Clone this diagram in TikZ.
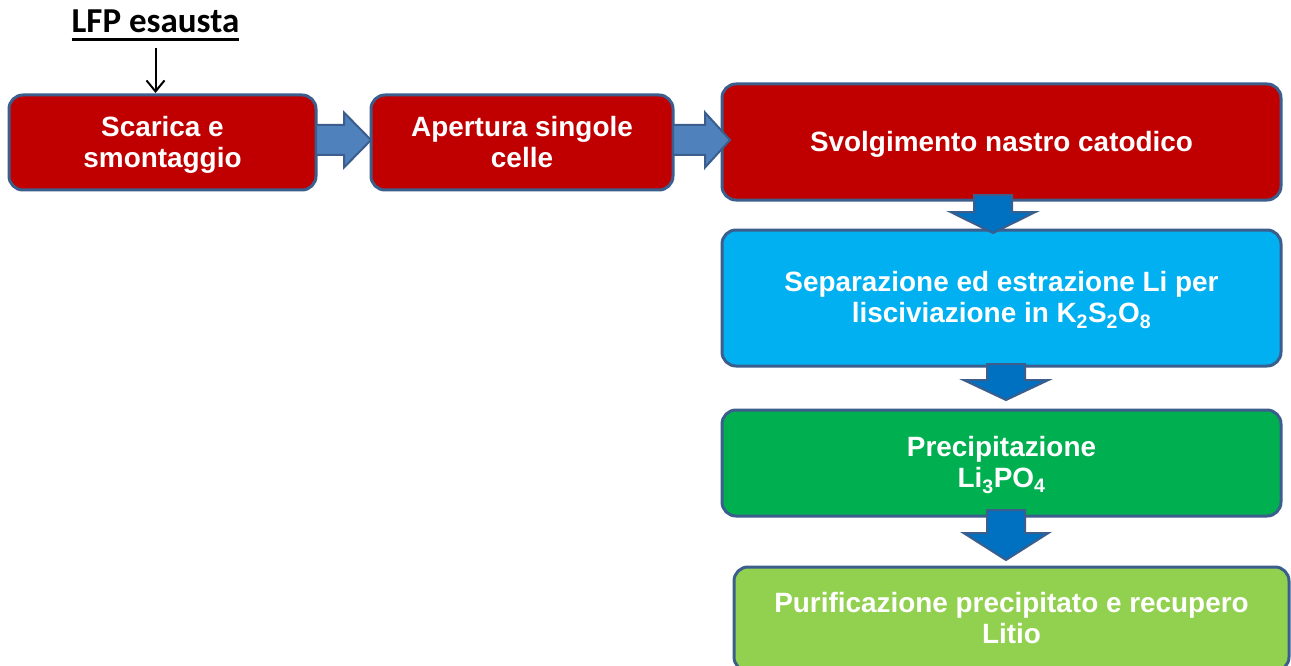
\documentclass[tikz,border=0pt]{standalone}
\usepackage{fontspec}
\setmainfont{Liberation Sans}
\newfontfamily\calfont{Carlito}
\usetikzlibrary{arrows.meta,calc}
\definecolor{cRed}{HTML}{C00000}
\definecolor{cCyan}{HTML}{00B0F0}
\definecolor{cGreen}{HTML}{00B050}
\definecolor{cLime}{HTML}{92D050}
\definecolor{cEdge}{HTML}{3B5E8C}
\definecolor{cBlkH}{HTML}{4F81BD}
\definecolor{cBlkV}{HTML}{0070C0}
\newcommand{\boxfont}{\fontsize{27.9}{31}\selectfont\bfseries}
% underlined title text
\newcommand{\ulbartxt}[1]{\setbox0\hbox{#1}\rlap{\copy0}\rule[-7.6pt]{\wd0}{2.6pt}}
\tikzset{
  stepbox/.style={draw=cEdge, line width=3pt, rounded corners=14pt, align=center,
                  text=white, font=\boxfont, inner sep=0pt, outer sep=0pt, text depth=1.3pt},
  blkh/.style={fill=cBlkH, draw=cEdge, line width=2pt},
  blkv/.style={fill=cBlkV, draw=cEdge, line width=2pt},
  tarr/.style={-{Straight Barb[length=11pt,width=18pt]}, line width=2pt, black},
}
% horizontal block arrow: start, tip, head length
\newcommand{\hblk}[3]{%
  \draw[blkh] let \p1=#1, \p2=#2 in
    (\x1,\y1+15) -- (\x2-#3,\y1+15) -- (\x2-#3,\y1+27.5) -- (\x2,\y1)
    -- (\x2-#3,\y1-27.5) -- (\x2-#3,\y1-15) -- (\x1,\y1-15) -- cycle;}
% vertical block arrow: start, tip, head length
\newcommand{\vblk}[3]{%
  \draw[blkv] let \p1=#1, \p2=#2 in
    (\x1-19,\y1) -- (\x1-19,\y2+#3) -- (\x1-42.5,\y2+#3) -- (\x1,\y2)
    -- (\x1+42.5,\y2+#3) -- (\x1+19,\y2+#3) -- (\x1+19,\y1) -- cycle;}

\begin{document}
\begin{tikzpicture}[x=1pt, y=-1pt]
    \fill[white] (0,0) rectangle (1291,666);
    \useasboundingbox (0,0) rectangle (1291,666);
    % title
    \node[anchor=base, inner sep=0pt, font=\calfont\bfseries\fontsize{35}{40}\selectfont] (ttl)
        at (155.5,33) {\ulbartxt{LFP esausta}};
    % process steps
    \node[stepbox, fill=cRed, minimum width=307pt, minimum height=95pt] (s1)
        at (162.5,142.5) {Scarica e\\smontaggio};
    \node[stepbox, fill=cRed, minimum width=302pt, minimum height=95pt] (s2)
        at (522,142.5) {Apertura singole\\celle};
    \node[stepbox, fill=cRed, minimum width=559pt, minimum height=116pt] (s3)
        at (1001.5,142) {Svolgimento nastro catodico};
    \node[stepbox, fill=cCyan, minimum width=559pt, minimum height=136pt] (s4)
        at (1001.5,298) {Separazione ed estrazione Li per\\lisciviazione in K\textsubscript{2}S\textsubscript{2}O\textsubscript{8}};
    \node[stepbox, fill=cGreen, minimum width=559pt, minimum height=106pt] (s5)
        at (1001.5,463) {Precipitazione\\Li\textsubscript{3}PO\textsubscript{4}};
    \node[stepbox, fill=cLime, minimum width=555pt, minimum height=104pt] (s6)
        at (1011.5,619) {Purificazione precipitato e recupero\\Litio};
    % input arrow
    \draw[tarr, shorten >=2pt] (ttl.base) ++(0,15) -- (ttl.base |- s1.north);
    % block arrows
    \hblk{([yshift=2.5pt]s1.east)}{([yshift=2.5pt]s2.west)}{27}
    \hblk{([yshift=2.5pt]s2.east)}{([xshift=8pt]s3.west)}{25}
    \vblk{([xshift=-8.5pt,yshift=5pt]s3.south)}{([xshift=-8.5pt,yshift=-3pt]s4.north)}{21}
    \vblk{([xshift=4.5pt,yshift=2pt]s4.south)}{([xshift=4.5pt,yshift=10pt]s5.north)}{20}
    \vblk{([xshift=4.5pt,yshift=6pt]s5.south)}{([xshift=-5.5pt,yshift=7pt]s6.north)}{27}
\end{tikzpicture}
\end{document}
